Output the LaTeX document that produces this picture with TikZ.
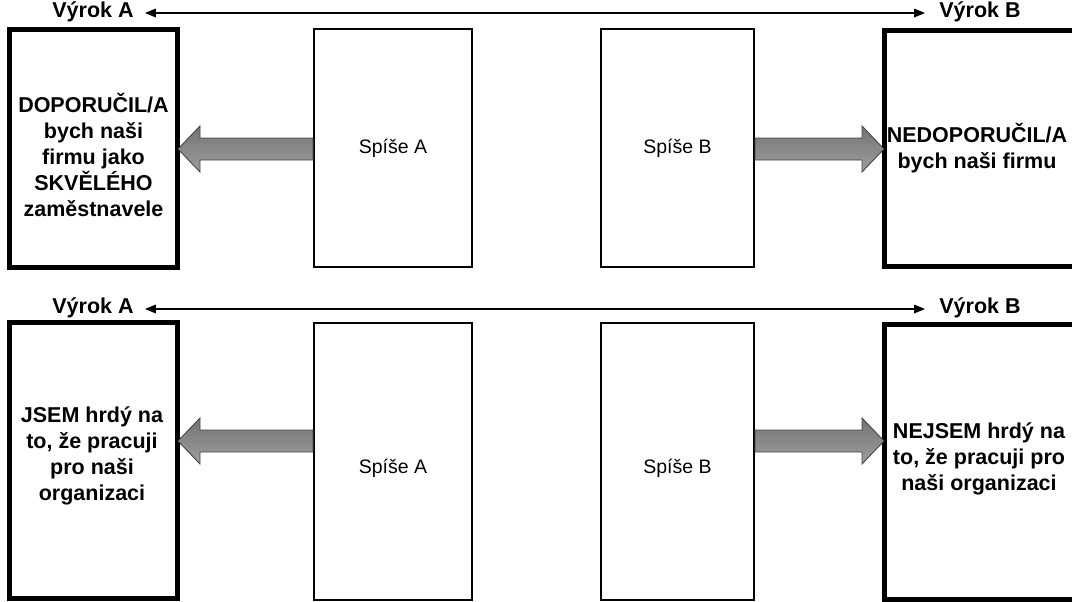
\documentclass[tikz,border=0pt]{standalone}
\usepackage{fontspec}
\setmainfont{Liberation Sans}
\usetikzlibrary{calc,arrows.meta}
\begin{document}
\begin{tikzpicture}[x=1pt,y=-1pt,
  thickbox/.style={draw, line width=5pt, inner sep=0pt, minimum width=168pt},
  thinbox/.style={draw, line width=2pt, inner sep=0pt},
  boldtxt/.style={font=\fontsize{21.5}{26}\selectfont\bfseries, align=center, inner sep=0pt},
  plaintxt/.style={font=\fontsize{19.5}{24}\selectfont, inner sep=0pt},
  hdr/.style={line width=1.6pt, {Triangle[length=11pt,width=8.5pt]}-{Triangle[length=11pt,width=8.5pt]}},
  barrow/.style={draw=black!72, line width=0.9pt, top color=black!55, bottom color=black!38},
]
\useasboundingbox (0,0) rectangle (1072,602);

% ---------- top row ----------
\node[boldtxt] (hA1) at (93,12) {Výrok A};
\node[boldtxt] (hB1) at (980,12) {Výrok B};
\draw[hdr] ([xshift=11pt]hA1.east |- 0,13) -- ([xshift=-14pt]hB1.west |- 0,13);

\node[thickbox, minimum height=238pt] (L1) at (93.5,148.5) {};
\node[thinbox, minimum width=158pt, minimum height=238pt] (A1) at (393,148) {};
\node[thinbox, minimum width=153pt, minimum height=238pt] (B1) at (677.5,148) {};
\node[thickbox, minimum width=200pt, minimum height=236pt] (R1) at (984.5,148.5) {};

\node[boldtxt] (tL1) at (93.5,155) {DOPORUČIL/A\\bych naši\\firmu jako\\SKVĚLÉHO\\zaměstnavele};
\node[plaintxt] (tA1) at (393,148) {Spíše A};
\node[plaintxt] (tB1) at (677.5,148) {Spíše B};
\node[boldtxt] (tR1) at (977,148) {NEDOPORUČIL/A\\bych naši firmu};

\coordinate (y1) at (0,149);
\coordinate (lt1) at ([xshift=-2pt]L1.east |- y1);
\coordinate (ls1) at (A1.west |- y1);
\coordinate (rt1) at ([xshift=2pt]R1.west |- y1);
\coordinate (rs1) at (B1.east |- y1);
\draw[barrow] ($(ls1)+(0,-11)$) -- ($(lt1)+(22,-11)$) -- ($(lt1)+(22,-23)$) -- (lt1)
  -- ($(lt1)+(22,23)$) -- ($(lt1)+(22,11)$) -- ($(ls1)+(0,11)$) -- cycle;
\draw[barrow] ($(rs1)+(0,-11)$) -- ($(rt1)+(-22,-11)$) -- ($(rt1)+(-22,-23)$) -- (rt1)
  -- ($(rt1)+(-22,23)$) -- ($(rt1)+(-22,11)$) -- ($(rs1)+(0,11)$) -- cycle;

% ---------- bottom row ----------
\node[boldtxt] (hA2) at (93,308) {Výrok A};
\node[boldtxt] (hB2) at (980,308) {Výrok B};
\draw[hdr] ([xshift=11pt]hA2.east |- 0,309) -- ([xshift=-14pt]hB2.west |- 0,309);

\node[thickbox, minimum height=276pt] (L2) at (93.5,460.5) {};
\node[thinbox, minimum width=158pt, minimum height=277pt] (A2) at (393,461.5) {};
\node[thinbox, minimum width=153pt, minimum height=277pt] (B2) at (677.5,461.5) {};
\node[thickbox, minimum width=200pt, minimum height=275pt] (R2) at (984.5,462) {};

\node[boldtxt] (tL2) at (92,456) {JSEM hrdý na\\to, že pracuji\\pro naši\\organizaci};
\node[plaintxt] (tA2) at (393,468) {Spíše A};
\node[plaintxt] (tB2) at (677.5,468) {Spíše B};
\node[boldtxt] (tR2) at (979,459) {NEJSEM hrdý na\\to, že pracuji pro\\naši organizaci};

\coordinate (y2) at (0,441);
\coordinate (lt2) at ([xshift=-2pt]L2.east |- y2);
\coordinate (ls2) at (A2.west |- y2);
\coordinate (rt2) at ([xshift=2pt]R2.west |- y2);
\coordinate (rs2) at (B2.east |- y2);
\draw[barrow] ($(ls2)+(0,-11)$) -- ($(lt2)+(22,-11)$) -- ($(lt2)+(22,-23)$) -- (lt2)
  -- ($(lt2)+(22,23)$) -- ($(lt2)+(22,11)$) -- ($(ls2)+(0,11)$) -- cycle;
\draw[barrow] ($(rs2)+(0,-11)$) -- ($(rt2)+(-22,-11)$) -- ($(rt2)+(-22,-23)$) -- (rt2)
  -- ($(rt2)+(-22,23)$) -- ($(rt2)+(-22,11)$) -- ($(rs2)+(0,11)$) -- cycle;
\end{tikzpicture}
\end{document}
